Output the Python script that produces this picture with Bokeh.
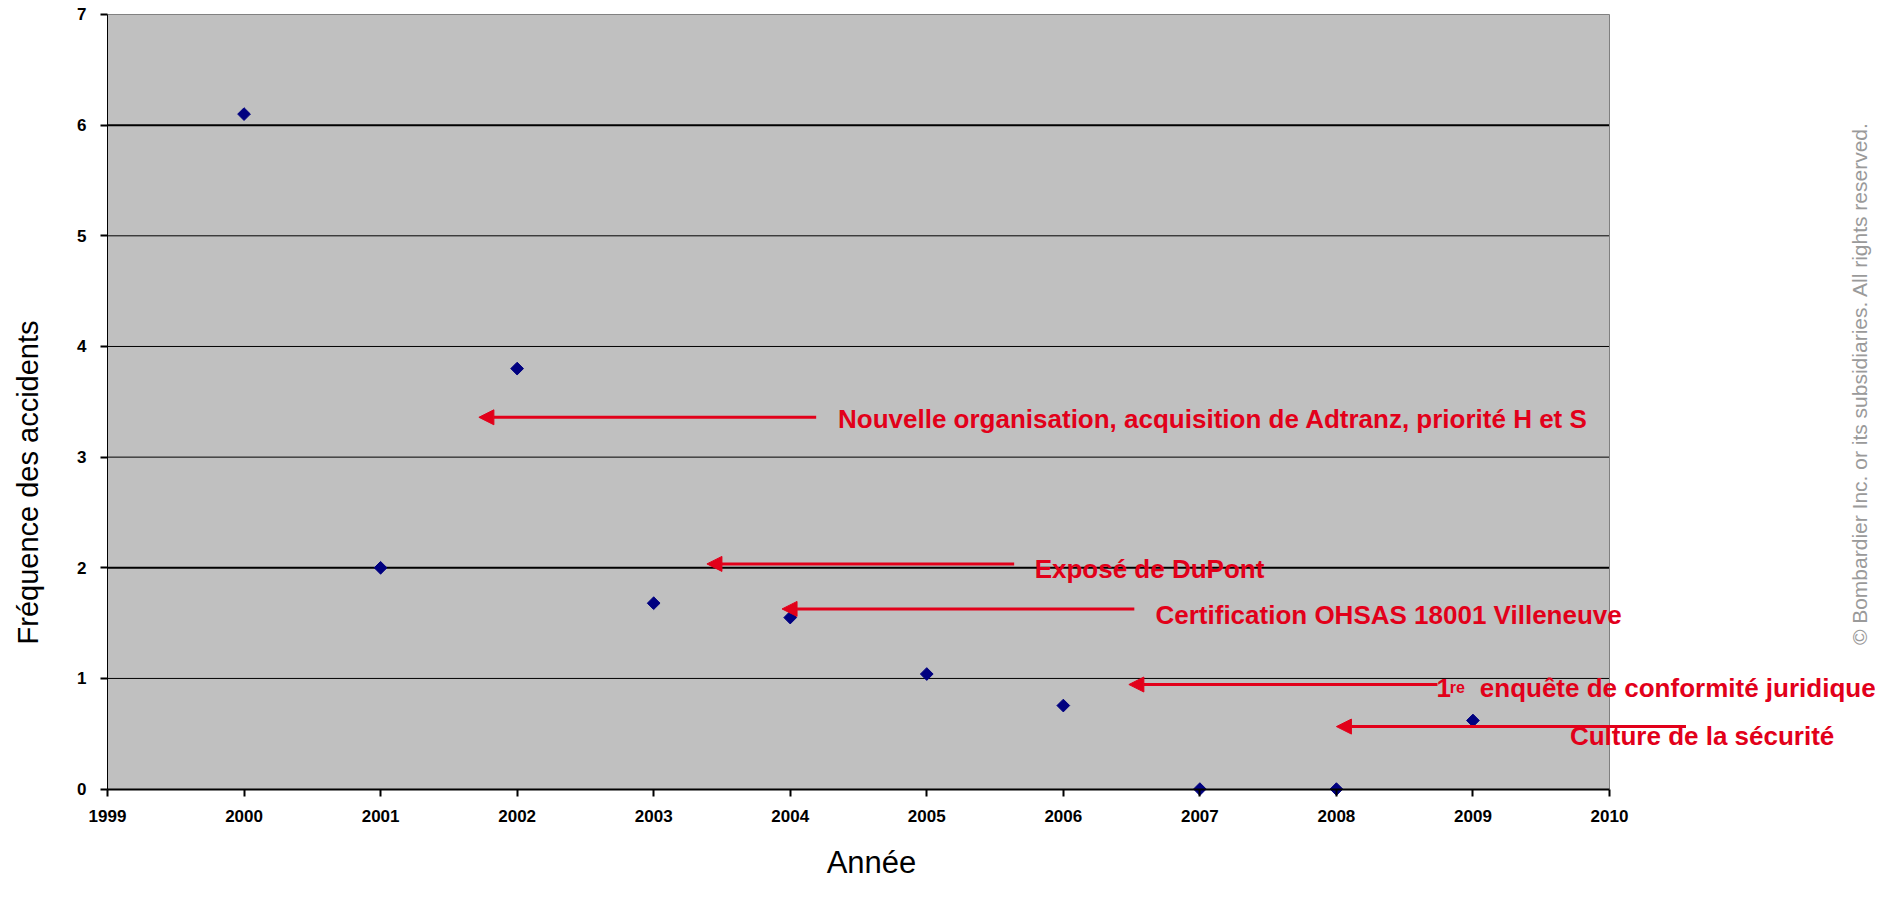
import math
from bokeh.plotting import figure
from bokeh.models import Range1d, FixedTicker, Label, Arrow, NormalHead
from bokeh.embed import file_html
from bokeh.resources import INLINE

# ---- data ----
years = [2000, 2001, 2002, 2003, 2004, 2005, 2006, 2007, 2008, 2009]
frequency = [6.1, 2.0, 3.8, 1.68, 1.55, 1.04, 0.755, 0.0, 0.0, 0.62]
x_ticks = list(range(1999, 2011))
x_tick_labels = [str(t) for t in x_ticks]
y_ticks = [0, 1, 2, 3, 4, 5, 6, 7]
y_tick_labels = [str(t) for t in y_ticks]

# annotations: arrow tip x, arrow tail x, arrow y, label text, label position
ann_tip_x = [2001.72, 2003.39, 2003.94, 2006.48, 2008.0]
ann_tail_x = [2004.19, 2005.64, 2006.52, 2008.74, 2010.56]
ann_y = [3.36, 2.035, 1.628, 0.945, 0.565]
ann_text = ["Nouvelle organisation, acquisition de Adtranz, priorité H et S",
            "Exposé de DuPont",
            "Certification OHSAS 18001 Villeneuve",
            "enquête de conformité juridique",
            "Culture de la sécurité"]
ann_text_x = [2004.35, 2005.79, 2006.675, 2009.05, 2009.71]
ann_text_y = [3.347, 1.992, 1.577, 0.918, 0.484]

RED = "#E2001A"
FONT = "Liberation Sans"

X0, X1 = x_ticks[0], x_ticks[-1]
Y0, Y1 = y_ticks[0], y_ticks[-1]

# frame covers the whole figure; axes are pinned at x=1999 / y=0
p = figure(frame_width=1875, frame_height=881,
           min_border_left=0, min_border_right=0, min_border_top=0, min_border_bottom=0,
           x_range=Range1d(1998.2164, 2011.948), y_range=Range1d(-0.835, 7.1265),
           output_backend="svg", toolbar_location=None)

p.background_fill_color = "white"
p.border_fill_color = "white"
p.outline_line_color = None
p.xgrid.grid_line_color = None
p.ygrid.grid_line_color = None

# plot area
p.quad(left=[X0], right=[X1], bottom=[Y0], top=[Y1], fill_color="#C0C0C0", line_color=None)
grid_y = y_ticks[1:-1]
p.segment(x0=[X0] * len(grid_y), x1=[X1] * len(grid_y), y0=grid_y, y1=grid_y,
          line_color="black", line_width=[2 if g in (2, 6) else 1 for g in grid_y])
p.segment(x0=[X0, X1], x1=[X1, X1], y0=[Y1, Y0], y1=[Y1, Y1], line_color="#808080", line_width=1)

p.xaxis.fixed_location = Y0
p.yaxis.fixed_location = X0
p.xaxis.bounds = (X0, X1)
p.yaxis.bounds = (Y0, Y1)
p.xaxis.ticker = FixedTicker(ticks=x_ticks)
p.xaxis.major_label_overrides = {t: l for t, l in zip(x_ticks, x_tick_labels)}
p.yaxis.ticker = FixedTicker(ticks=y_ticks)
p.yaxis.major_label_overrides = {t: l for t, l in zip(y_ticks, y_tick_labels)}
for ax in (p.xaxis, p.yaxis):
    ax.major_tick_in = 0
    ax.major_tick_out = 7
    ax.minor_tick_line_color = None
    ax.major_tick_line_color = "black"
    ax.major_tick_line_width = 2
    ax.axis_line_color = "black"
    ax.major_label_text_font = FONT
    ax.major_label_text_font_size = "17px"
    ax.major_label_text_font_style = "bold"
    ax.major_label_text_color = "black"
p.xaxis.axis_line_width = 2
p.yaxis.axis_line_width = 1
p.xaxis.major_label_standoff = 14
p.yaxis.major_label_standoff = 14

p.scatter(years, frequency, marker="square", angle=math.pi / 4, size=9,
          fill_color="#000080", line_color="#000080")

for tx, tl, yy in zip(ann_tip_x, ann_tail_x, ann_y):
    p.add_layout(Arrow(x_start=tl, y_start=yy, x_end=tx, y_end=yy,
                       line_color=RED, line_width=3,
                       end=NormalHead(size=15, fill_color=RED, line_color=RED, line_width=1)))

for t, x, y in zip(ann_text, ann_text_x, ann_text_y):
    p.add_layout(Label(x=x, y=y, text=t, text_font=FONT, text_font_size="26px",
                       text_font_style="bold", text_color=RED,
                       text_align="left", text_baseline="middle"))
# "1re" prefix of the fourth annotation
p.add_layout(Label(x=2008.733, y=0.918, text="1", text_font=FONT, text_font_size="26px",
                   text_font_style="bold", text_color=RED, text_align="left", text_baseline="middle"))
p.add_layout(Label(x=2008.83, y=0.918, text="re", text_font=FONT, text_font_size="16px",
                   text_font_style="bold", text_color=RED, text_align="left", text_baseline="alphabetic"))

# axis titles
p.add_layout(Label(x=2004.595, y=-0.66, text="Année", text_font=FONT, text_font_size="31px",
                   text_color="black", text_align="center", text_baseline="middle"))
p.add_layout(Label(x=1998.421, y=2.771, text="Fréquence des accidents", text_font=FONT,
                   text_font_size="29px", text_color="black", angle=math.pi / 2,
                   text_align="center", text_baseline="middle"))

# copyright
p.add_layout(Label(x=2011.83, y=3.665, text="© Bombardier Inc. or its subsidiaries. All rights reserved.",
                   text_font=FONT, text_font_size="21px", text_color="#9A9A9A", angle=math.pi / 2,
                   text_align="center", text_baseline="middle"))

open("out.html", "w").write(file_html(p, INLINE))
